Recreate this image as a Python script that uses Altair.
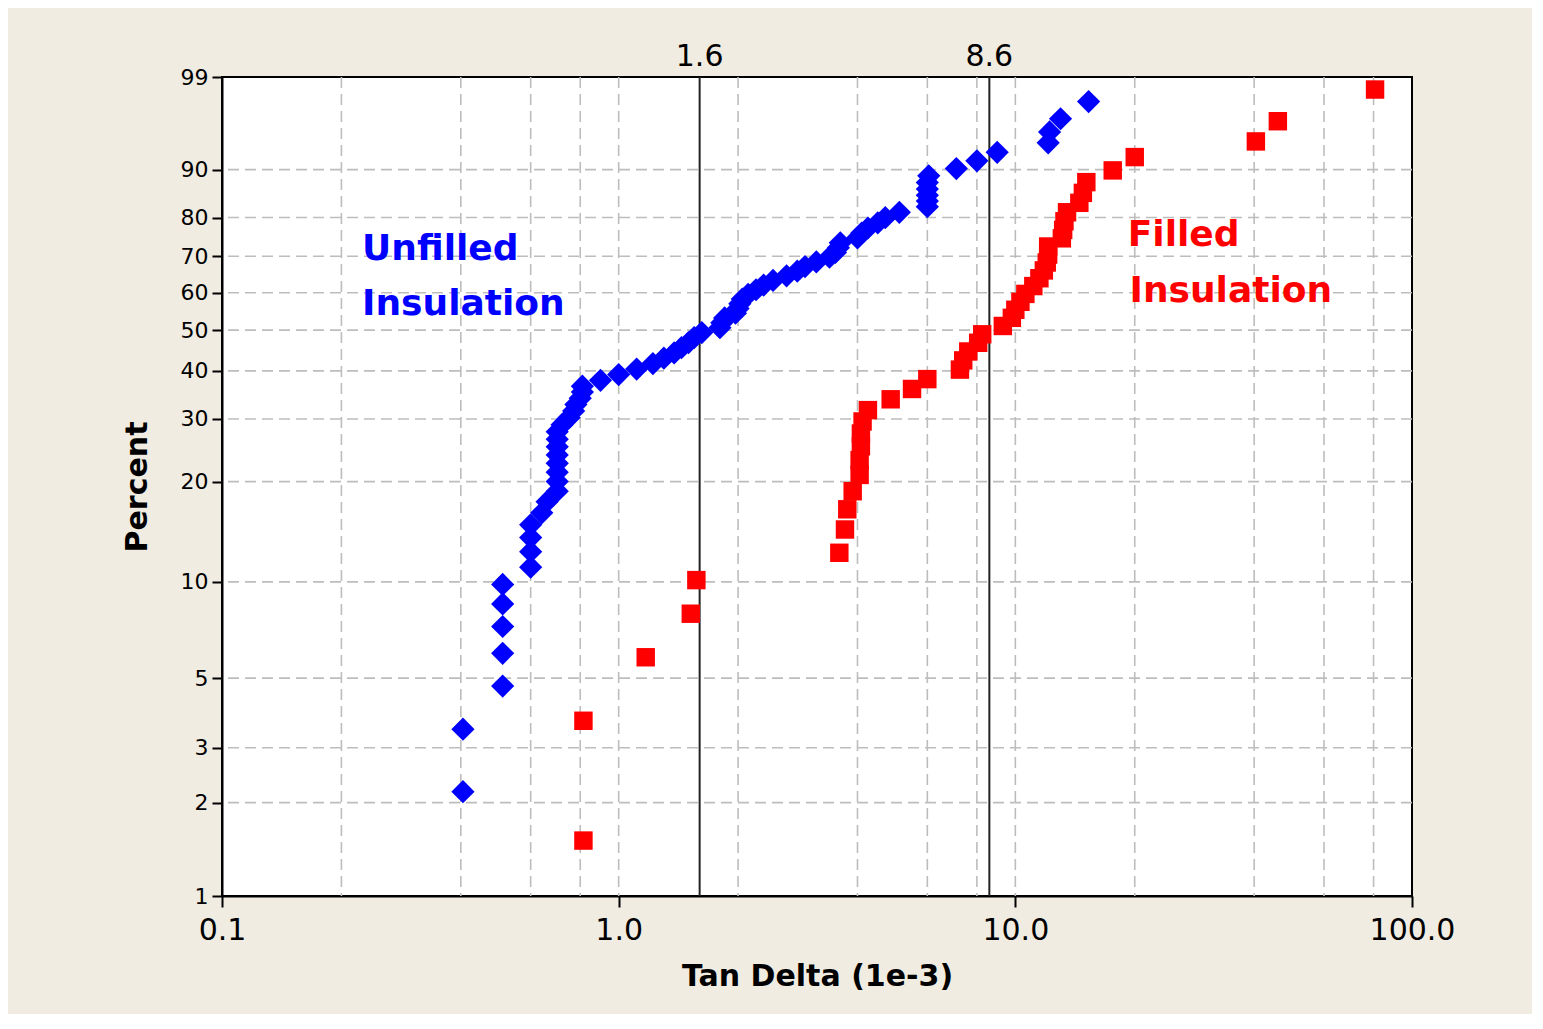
import math
import altair as alt
import pandas as pd

# ---------------- data ----------------
blue_tan = [0.405, 0.405,
            0.51, 0.51, 0.51, 0.51, 0.51,
            0.60, 0.60, 0.60, 0.60,
            0.64, 0.66,
            0.70, 0.70, 0.70, 0.70, 0.70, 0.70, 0.70, 0.70,
            0.72, 0.75, 0.77, 0.78, 0.80, 0.81, 0.81, 0.90,
            1.00, 1.11, 1.22, 1.30, 1.38, 1.44, 1.50, 1.55, 1.62,
            1.80, 1.82, 1.85, 1.97, 2.00, 2.02, 2.05, 2.12, 2.22, 2.32,
            2.45, 2.65, 2.82, 2.95, 3.15, 3.40, 3.52, 3.58, 3.62,
            4.00, 4.10, 4.25, 4.50, 4.70, 5.10,
            6.00, 6.00, 6.00, 6.00, 6.00, 6.05,
            7.10, 8.00, 9.00, 12.1, 12.2, 13.0, 15.3]
blue_pct = [2.17, 3.44, 4.72, 5.99, 7.27, 8.55, 9.82, 11.10, 12.37, 13.65,
            14.92, 16.20, 17.47, 18.75, 20.03, 21.30, 22.58, 23.85, 25.13, 26.40,
            27.68, 28.95, 30.23, 31.51, 32.78, 34.06, 35.33, 36.61, 37.88, 39.16,
            40.43, 41.71, 42.98, 44.26, 45.54, 46.81, 48.09, 49.36, 50.64, 51.91,
            53.19, 54.46, 55.74, 57.02, 58.29, 59.57, 60.84, 62.12, 63.39, 64.67,
            65.94, 67.22, 68.49, 69.77, 71.05, 72.32, 73.60, 74.87, 76.15, 77.42,
            78.70, 79.97, 81.25, 82.53, 83.80, 85.08, 86.35, 87.63, 88.90, 90.18,
            91.45, 92.73, 94.01, 95.28, 96.56, 97.83]

red_tan = [0.815, 0.815, 1.17, 1.52, 1.57,
           3.60, 3.72, 3.77, 3.89,
           4.05, 4.05, 4.08, 4.08, 4.12, 4.25,
           4.85, 5.49, 6.00,
           7.25, 7.39, 7.61, 8.06, 8.25,
           9.30, 9.80, 10.0, 10.3, 10.6,
           11.1, 11.5, 11.8, 12.0, 12.1, 12.1,
           13.1, 13.2, 13.3, 13.5,
           14.5, 14.8, 15.1,
           17.6, 20.0,
           40.4, 45.9, 80.7]
red_pct = [1.51, 3.66, 5.82, 7.97, 10.13, 12.28, 14.44, 16.59, 18.75, 20.91,
           23.06, 25.22, 27.37, 29.53, 31.68, 33.84, 36.00, 38.15, 40.30, 42.46,
           44.61, 46.77, 48.92, 51.08, 53.23, 55.39, 57.54, 59.70, 61.85, 64.01,
           66.16, 68.32, 70.47, 72.63, 74.78, 76.94, 79.09, 81.25, 83.41, 85.56,
           87.72, 89.87, 92.03, 94.18, 96.34, 98.49]

ref_lines = [1.6, 8.6]
x_ticks = [0.1, 1, 10, 100]
x_grid = [0.2, 0.4, 0.6, 0.8, 1, 2, 4, 6, 8, 10, 20, 40, 60, 80]
y_ticks = [1, 2, 3, 5, 10, 20, 30, 40, 50, 60, 70, 80, 90, 99]
y_grid = [2, 3, 5, 10, 20, 30, 40, 50, 60, 70, 80, 90]

ann_text = ["Unfilled", "Insulation", "Filled", "Insulation"]
ann_tan = [0.2255, 0.2255, 19.2, 19.4]
ann_pct = [69.0, 54.0, 72.8, 57.5]
ann_color = ["blue", "blue", "red", "red"]

# ---------------- helpers ----------------
def wb(p):
    return math.log(-math.log(1.0 - p / 100.0))

WB = "log(-log(1 - datum.pct / 100))"
FONT = "DejaVu Sans"

blue_df = pd.DataFrame({"tan": blue_tan, "pct": blue_pct})
red_df = pd.DataFrame({"tan": red_tan, "pct": red_pct})
xgrid_df = pd.DataFrame({"tan": x_grid})
ygrid_df = pd.DataFrame({"pct": y_grid})
ref_df = pd.DataFrame({"tan": ref_lines, "label": [str(v) for v in ref_lines]})
ann_df = pd.DataFrame({"text": ann_text, "tan": ann_tan, "pct": ann_pct, "color": ann_color})

x_scale = alt.Scale(type="log", domain=[0.1, 100], nice=False)
y_scale = alt.Scale(domain=[wb(1), wb(99)], nice=False, zero=False)

x_axis = alt.Axis(values=x_ticks, format=".1f", grid=False,
                  labelFont=FONT, labelFontSize=30, labelColor="black",
                  labelPadding=8, labelFlush=False, labelOverlap=False,
                  tickColor="black", tickWidth=2, tickSize=11,
                  domainColor="black", domainWidth=2,
                  title="Tan Delta (1e-3)", titleFont=FONT, titleFontSize=30,
                  titleFontWeight="bold", titleColor="black", titlePadding=16)
y_axis = alt.Axis(values=[wb(p) for p in y_ticks],
                  labelExpr="format((1 - exp(-exp(datum.value))) * 100, '.0f')",
                  grid=False, labelFont=FONT, labelFontSize=22, labelColor="black",
                  labelPadding=4, labelOverlap=False, labelFlush=False,
                  tickColor="black", tickWidth=2, tickSize=10,
                  domainColor="black", domainWidth=2,
                  title="Percent", titleFont=FONT, titleFontSize=30,
                  titleFontWeight="bold", titleColor="black", titlePadding=28)

X = alt.X("tan:Q", scale=x_scale, axis=x_axis)
Y = alt.Y("wy:Q", scale=y_scale, axis=y_axis)

grid_style = dict(color="#BDBDBD", strokeWidth=1.6, strokeDash=[11, 6])

xgrid = alt.Chart(xgrid_df).mark_rule(**grid_style).encode(x=X)
ygrid = alt.Chart(ygrid_df).transform_calculate(wy=WB).mark_rule(**grid_style).encode(y=Y)

refs = alt.Chart(ref_df).mark_rule(color="#222222", strokeWidth=2).encode(x=X)
ref_txt = alt.Chart(ref_df).mark_text(
    font=FONT, fontSize=30, color="black", align="center", baseline="alphabetic"
).encode(x=X, y=alt.value(-11), text="label:N")

blue = alt.Chart(blue_df).transform_calculate(wy=WB).mark_point(
    shape="diamond", filled=True, size=540, color="#0000FF", opacity=1, strokeWidth=0
).encode(x=X, y=Y)

red = alt.Chart(red_df).transform_calculate(wy=WB).mark_square(
    size=340, color="#FF0000", opacity=1, strokeWidth=0
).encode(x=X, y=Y)

ann = alt.Chart(ann_df).transform_calculate(wy=WB).mark_text(
    font=FONT, fontSize=36, fontWeight="bold", align="left", baseline="alphabetic"
).encode(x=X, y=Y, text="text:N", color=alt.Color("color:N", scale=None))

chart = alt.layer(xgrid, ygrid, refs, ref_txt, blue, red, ann).properties(
    width=1190, height=819,
    padding={"left": 214, "top": 69, "right": 120, "bottom": 118},
    autosize=alt.AutoSizeParams(type="none"),
    background="#F0ECE2",
).configure_view(fill="white", stroke="black", strokeWidth=2)

chart.save("out.html", embed_options={"renderer": "svg", "actions": False})
